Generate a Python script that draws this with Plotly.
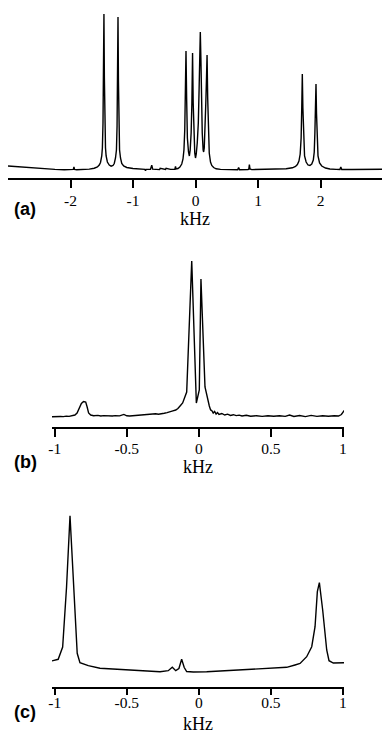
import plotly.graph_objects as go

# ---------------- Panel (a) ----------------
a_khz = [-3.00, -2.85, -2.70, -2.55, -2.40, -2.25, -2.10, -1.98, -1.955, -1.945, -1.935, -1.90,
         -1.80, -1.70, -1.62, -1.57, -1.54, -1.52, -1.50, -1.49, -1.48, -1.472, -1.465, -1.458,
         -1.45, -1.44, -1.43, -1.41, -1.38, -1.35, -1.32, -1.30, -1.28, -1.265, -1.255, -1.247,
         -1.24, -1.233, -1.225, -1.215, -1.20, -1.18, -1.15, -1.10, -1.00, -0.90, -0.81, -0.80,
         -0.79, -0.72, -0.70, -0.685, -0.60, -0.575, -0.565, -0.50, -0.48, -0.47, -0.40, -0.33,
         -0.32, -0.31, -0.28, -0.25, -0.22, -0.20, -0.185, -0.172, -0.162, -0.152, -0.142, -0.13,
         -0.112, -0.098, -0.085, -0.07, -0.058, -0.047, -0.037, -0.025, -0.012, 0.0, 0.012, 0.028,
         0.045, 0.058, 0.068, 0.077, 0.086, 0.095, 0.108, 0.122, 0.13, 0.14, 0.152, 0.165,
         0.176, 0.185, 0.195, 0.205, 0.22, 0.24, 0.26, 0.29, 0.33, 0.40, 0.50, 0.60,
         0.675, 0.69, 0.705, 0.84, 0.853, 0.862, 0.872, 0.90, 1.10, 1.30, 1.45, 1.55,
         1.60, 1.63, 1.655, 1.675, 1.69, 1.70, 1.709, 1.718, 1.728, 1.745, 1.77, 1.80,
         1.83, 1.86, 1.885, 1.90, 1.91, 1.92, 1.928, 1.936, 1.946, 1.96, 1.985, 2.02,
         2.08, 2.15, 2.25, 2.31, 2.325, 2.34, 2.50, 2.70, 3.00]
a_int = [12.0, 11.2, 10.4, 9.7, 9.1, 8.6, 8.3, 8.2, 8.6, 11.0, 8.6, 8.2,
         8.4, 8.9, 9.8, 11.0, 13.0, 15.5, 22, 30, 55, 100, 164, 100,
         55, 30, 22, 16, 13, 11.8, 12.5, 14.5, 20, 28, 52, 97,
         161, 97, 52, 28, 20, 14.5, 12, 10.5, 9.5, 9.0, 8.6, 7.4,
         8.6, 8.8, 12.8, 8.8, 8.5, 8.4, 9.6, 8.4, 8.6, 9.8, 8.6, 8.8,
         11.5, 9.0, 9.5, 11, 14, 19, 28, 48, 80, 127, 80, 40,
         26, 22, 28, 45, 75, 125, 75, 40, 25, 20, 24, 35,
         55, 90, 120, 146, 120, 80, 45, 28, 26, 30, 45, 75,
         100, 123, 80, 45, 25, 16, 12.5, 10.5, 9.2, 8.6, 8.3, 8.3,
         8.3, 10.5, 8.3, 8.4, 9.0, 13.5, 9.0, 8.4, 8.5, 8.7, 9.2, 10.2,
         11.5, 13.5, 17, 24, 40, 70, 104, 70, 40, 22, 16, 13,
         12.5, 14, 18, 26, 45, 70, 94, 65, 38, 22, 15, 12,
         10, 9.0, 8.6, 8.5, 11, 8.5, 8.5, 8.6, 8.7]

# ---------------- Panel (b) ----------------
b_khz = [-1.02, -1.00, -0.98, -0.96, -0.94, -0.92, -0.90, -0.88, -0.86, -0.845, -0.83, -0.815,
         -0.80, -0.785, -0.775, -0.765, -0.75, -0.73, -0.70, -0.68, -0.66, -0.64, -0.62, -0.60,
         -0.58, -0.55, -0.52, -0.50, -0.48, -0.45, -0.42, -0.40, -0.38, -0.36, -0.34, -0.32,
         -0.30, -0.28, -0.26, -0.24, -0.22, -0.20, -0.18, -0.16, -0.145, -0.13, -0.112, -0.084,
         -0.049, -0.017, 0.0035, 0.015, 0.043, 0.073, 0.082, 0.09, 0.10, 0.11, 0.12, 0.13,
         0.14, 0.16, 0.18, 0.20, 0.22, 0.24, 0.26, 0.28, 0.30, 0.33, 0.36, 0.40,
         0.44, 0.48, 0.52, 0.56, 0.60, 0.63, 0.66, 0.70, 0.74, 0.78, 0.82, 0.86,
         0.90, 0.94, 0.97, 0.99, 1.01]
b_int = [10.3, 10.6, 10.2, 10.5, 10.4, 10.9, 10.6, 11.4, 12.0, 14, 18, 23.5,
         25.5, 25, 20, 14, 12, 11.3, 11.6, 11.0, 11.4, 11.1, 11.5, 11.0,
         11.4, 11.1, 12.6, 11.2, 11.0, 11.4, 11.1, 11.6, 12.2, 12.0, 12.8, 12.4,
         13.2, 12.8, 13.6, 13.8, 14.4, 15.0, 16.2, 17.0, 18.5, 21.0, 24, 35,
         166, 24, 37, 148, 40, 21, 17, 16.5, 14, 15.5, 13, 14.5,
         12.5, 13.5, 12, 12.8, 11.6, 12.3, 11.4, 11.9, 11.0, 11.7, 10.8, 11.3,
         10.6, 11.2, 10.7, 11.3, 10.6, 12.0, 10.5, 11.5, 10.4, 11.6, 10.6, 11.2,
         10.8, 11.3, 11.0, 12.5, 16.5]

# ---------------- Panel (c) ----------------
c_khz = [-1.022, -0.976, -0.945, -0.918, -0.894, -0.856, -0.844, -0.825, -0.767, -0.686, -0.57, -0.501,
         -0.40, -0.269, -0.212, -0.184, -0.160, -0.138, -0.119, -0.101, -0.084, -0.038, 0.055, 0.24,
         0.47, 0.564, 0.61, 0.668, 0.703, 0.749, 0.784, 0.807, 0.823, 0.837, 0.860, 0.888,
         0.904, 0.934, 0.98, 1.015]
c_int = [26, 27.7, 40, 100, 171.3, 60, 33.7, 24.3, 21.3, 18.7, 17.8, 17,
         16.4, 15.3, 16.3, 19.7, 16.3, 18.5, 27.7, 19.5, 15.5, 15, 15.3, 16.7,
         18.3, 18.7, 19.7, 22, 23.5, 30.3, 40.3, 60.3, 95.3, 104.3, 77, 37,
         26.3, 24, 24, 24.3]

# ---------------- axes text ----------------
a_ticks = [-2, -1, 0, 1, 2]
a_ticktext = ["-2", "-1", "0", "1", "2"]
bc_ticks = [-1, -0.5, 0, 0.5, 1]
bc_ticktext = ["-1", "-0.5", "0", "0.5", "1"]
axis_title = "kHz"
panel_labels = ["(a)", "(b)", "(c)"]

W, H = 382, 734
serif = "Liberation Serif"

fig = go.Figure()
line = dict(color="black", width=1.4)
fig.add_trace(go.Scatter(x=a_khz, y=a_int, mode="lines", line=line, xaxis="x", yaxis="y", hoverinfo="skip"))
fig.add_trace(go.Scatter(x=b_khz, y=b_int, mode="lines", line=line, xaxis="x2", yaxis="y2", hoverinfo="skip"))
fig.add_trace(go.Scatter(x=c_khz, y=c_int, mode="lines", line=line, xaxis="x3", yaxis="y3", hoverinfo="skip"))


def xax(domain, rng, tv, tt, anchor, standoff_lbl, title_standoff, tlen=8):
    return dict(domain=domain, range=rng, anchor=anchor, showgrid=False, zeroline=False,
                showline=True, linecolor="black", linewidth=1.6,
                ticks="outside", ticklen=tlen, tickwidth=1.5, tickcolor="black",
                tickvals=tv, ticktext=tt, ticklabelstandoff=standoff_lbl,
                tickfont=dict(family=serif, size=15.5, color="black"),
                title=dict(text=axis_title, font=dict(family=serif, size=18, color="black"),
                           standoff=title_standoff),
                automargin=False, fixedrange=True)


def yax(domain, rng, anchor):
    return dict(domain=domain, range=rng, anchor=anchor, visible=False, showgrid=False,
                zeroline=False, fixedrange=True)


fig.update_layout(
    width=W, height=H, margin=dict(l=0, r=0, t=0, b=0),
    paper_bgcolor="white", plot_bgcolor="white", showlegend=False,
    xaxis=xax([8 / W, 1.0], [-3.0, 2.984], a_ticks, a_ticktext, "y", 0, 0),
    yaxis=yax([1 - 178 / H, 1 - 8 / H], [0, 170], "x"),
    xaxis2=xax([52 / W, 344 / W], [-1.019, 1.008], bc_ticks, bc_ticktext, "y2", -1, 0),
    yaxis2=yax([1 - 427 / H, 1 - 250 / H], [0, 177], "x2"),
    xaxis3=xax([52 / W, 344 / W], [-1.019, 1.008], bc_ticks, bc_ticktext, "y3", -5, 14, tlen=6),
    yaxis3=yax([1 - 687 / H, 1 - 505 / H], [0, 182], "x3"),
)

label_y = [208.5, 462, 712]
for txt, yp in zip(panel_labels, label_y):
    fig.add_annotation(text=txt, xref="paper", yref="paper", x=25 / W, y=1 - yp / H,
                       xanchor="center", yanchor="middle", showarrow=False,
                       font=dict(family="Liberation Sans", size=18, color="black", weight="bold"))

fig.write_html("out.html", config={"displayModeBar": False},
               post_script="document.body.style.margin='0';document.body.style.overflow='hidden';")
